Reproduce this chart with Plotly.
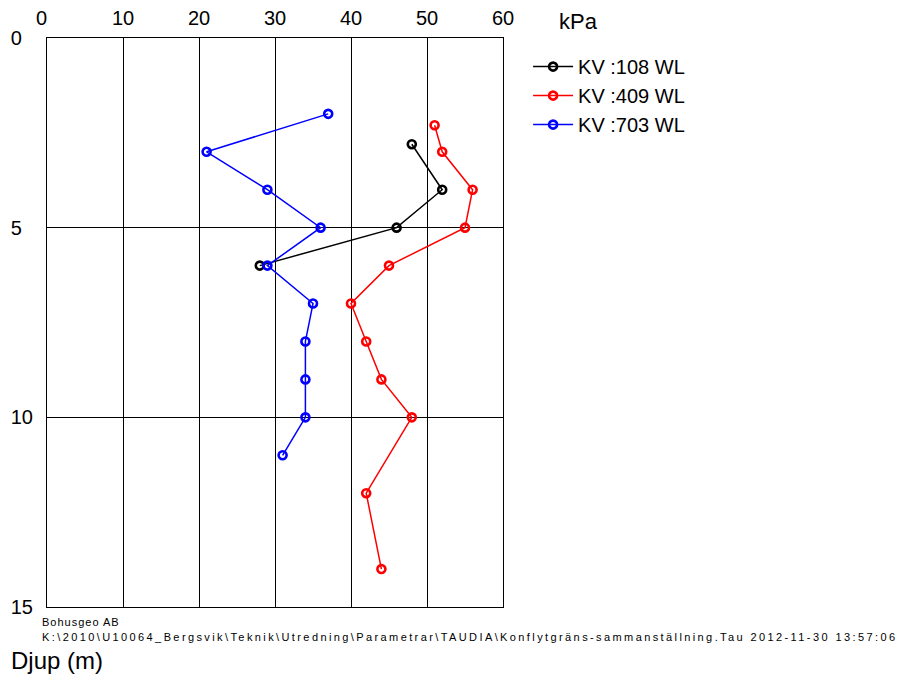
import plotly.graph_objects as go

# Data (kPa vs depth m)
kv108_kpa = [48, 52, 46, 28]
kv108_depth = [2.8, 4, 5, 6]

kv409_kpa = [51, 52, 56, 55, 45, 40, 42, 44, 48, 42, 44]
kv409_depth = [2.3, 3, 4, 5, 6, 7, 8, 9, 10, 12, 14]

kv703_kpa = [37, 21, 29, 36, 29, 35, 34, 34, 34, 31]
kv703_depth = [2, 3, 4, 5, 6, 7, 8, 9, 10, 11]

x_ticks = [0, 10, 20, 30, 40, 50, 60]
x_labels = ["0\u2007", "10", "20", "30", "40", "50", "60"]
y_ticks = [0, 5, 10, 15]
y_labels = ["0\u2007", "5\u2007", "10", "15"]

series = [
    ("KV :108 WL", kv108_kpa, kv108_depth, "#000000"),
    ("KV :409 WL", kv409_kpa, kv409_depth, "#ff0000"),
    ("KV :703 WL", kv703_kpa, kv703_depth, "#0000ff"),
]

FONT = "Liberation Sans, Arial, sans-serif"

fig = go.Figure()
for name, xs, ys, col in series:
    fig.add_trace(go.Scatter(
        x=xs, y=ys, name=name, mode="lines+markers",
        line=dict(color=col, width=1.5),
        marker=dict(symbol="circle-open", size=8, color=col, line=dict(width=2.6, color=col)),
    ))

fig.update_layout(
    width=905, height=669,
    margin=dict(l=39, r=410, t=30, b=70),
    paper_bgcolor="white", plot_bgcolor="white",
    font=dict(family=FONT, color="black", size=20),
    showlegend=True,
    legend=dict(
        x=1.055, y=0.984, xanchor="left", yanchor="top",
        font=dict(size=20, family=FONT),
        bgcolor="rgba(0,0,0,0)", tracegroupgap=0, itemwidth=40,
    ),
    xaxis=dict(
        side="top", range=[0, 60], tickvals=x_ticks, ticktext=x_labels,
        showgrid=True, gridcolor="black", gridwidth=1,
        showline=True, linecolor="black", linewidth=1, mirror=True,
        zeroline=False, ticks="", tickfont=dict(size=20), ticklabelstandoff=4,
        automargin=False,
    ),
    yaxis=dict(
        range=[15, 0], tickvals=y_ticks, ticktext=y_labels,
        showgrid=True, gridcolor="black", gridwidth=1,
        showline=True, linecolor="black", linewidth=1, mirror=True,
        zeroline=False, ticks="", tickfont=dict(size=20), ticklabelstandoff=9,
        automargin=False,
    ),
)

fig.add_annotation(text="kPa", xref="paper", yref="paper", x=1.166, y=1.0, yshift=17,
                   xanchor="center", yanchor="middle", showarrow=False,
                   font=dict(size=22, family=FONT))
fig.add_annotation(text='<span style="letter-spacing:1.0px">Bohusgeo AB</span>',
                   xref="paper", yref="paper", x=-0.015, y=-0.012,
                   xanchor="left", yanchor="top", showarrow=False,
                   font=dict(size=11, family=FONT))
fig.add_annotation(text='<span style="letter-spacing:2.4px">K:\\2010\\U10064_Bergsvik\\Teknik\\Utredning\\Parametrar\\TAUDIA\\Konflytgräns-sammanställning.Tau 2012-11-30 13:57:06</span>',
                   xref="paper", yref="paper", x=-0.015, y=-0.038,
                   xanchor="left", yanchor="top", showarrow=False,
                   font=dict(size=11, family=FONT))
fig.add_annotation(text="Djup (m)", xref="paper", yref="paper", x=-0.083, y=-0.066,
                   xanchor="left", yanchor="top", showarrow=False,
                   font=dict(size=24, family=FONT))

fig.write_html("out.html")
